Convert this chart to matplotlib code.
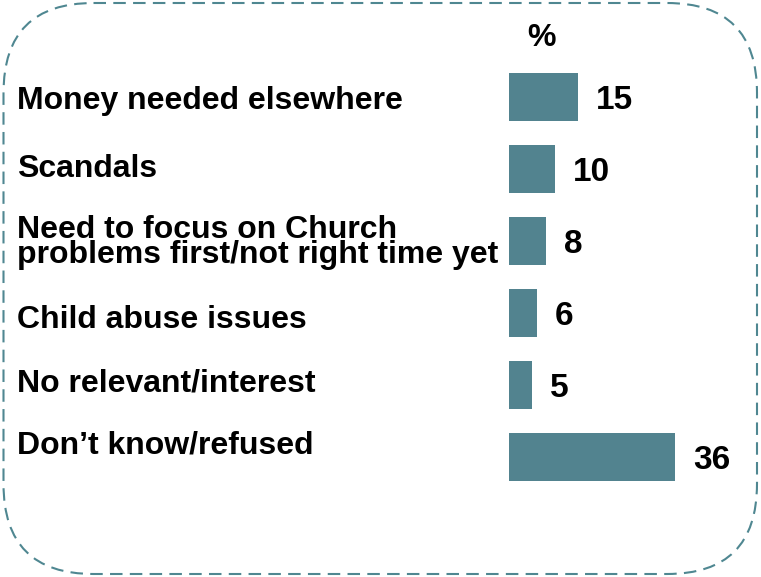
import matplotlib.pyplot as plt
from matplotlib.patches import FancyBboxPatch

categories = ["Money needed elsewhere", "Scandals",
              "Need to focus on Church\nproblems first/not right time yet",
              "Child abuse issues", "No relevant/interest", "Don\u2019t know/refused"]
values = [15, 10, 8, 6, 5, 36]

W, H = 761, 577
# label baselines (last line) as they sit in the original slide, pixels from top
label_baseline_px = [109, 177, 263, 328, 391, 453]

plt.rcParams['font.family'] = ['Liberation Sans', 'DejaVu Sans']
fig = plt.figure(figsize=(W / 100, H / 100), dpi=100)

# background axes in pixel units for the dashed rounded frame
bg = fig.add_axes([0, 0, 1, 1])
bg.set_xlim(0, W)
bg.set_ylim(H, 0)
bg.axis('off')
frame = FancyBboxPatch((3.5, 3), W - 7.5, H - 6, boxstyle="round,pad=0,rounding_size=90",
                       fill=False, edgecolor='#4f8791', lw=1.5, linestyle=(0, (6, 3.5)))
bg.add_patch(frame)

# bar axes: x 509..675 px for 0..36, y 61..493 px for 6 slots
ax = fig.add_axes([509 / W, 1 - 493 / H, 166 / W, 432 / H])
ypos = list(range(len(values)))
ax.barh(ypos, values, height=0.667, color='#52838f')
ax.set_xlim(0, 36)
ax.set_ylim(5.5, -0.5)
ax.axis('off')

for y, v in zip(ypos, values):
    ax.text(v + 18 / 166 * 36, y + 12 / 72, str(v), va='baseline', ha='left',
            fontsize=24, fontweight='bold')

for py, c in zip(label_baseline_px, categories):
    bg.text(17, py, c, va='baseline', ha='left',
            fontsize=23, fontweight='bold', linespacing=0.8)

bg.text(542, 38, '%', ha='center', va='center', fontsize=23, fontweight='bold')

fig.savefig('out.png', dpi=100)
plt.close(fig)
